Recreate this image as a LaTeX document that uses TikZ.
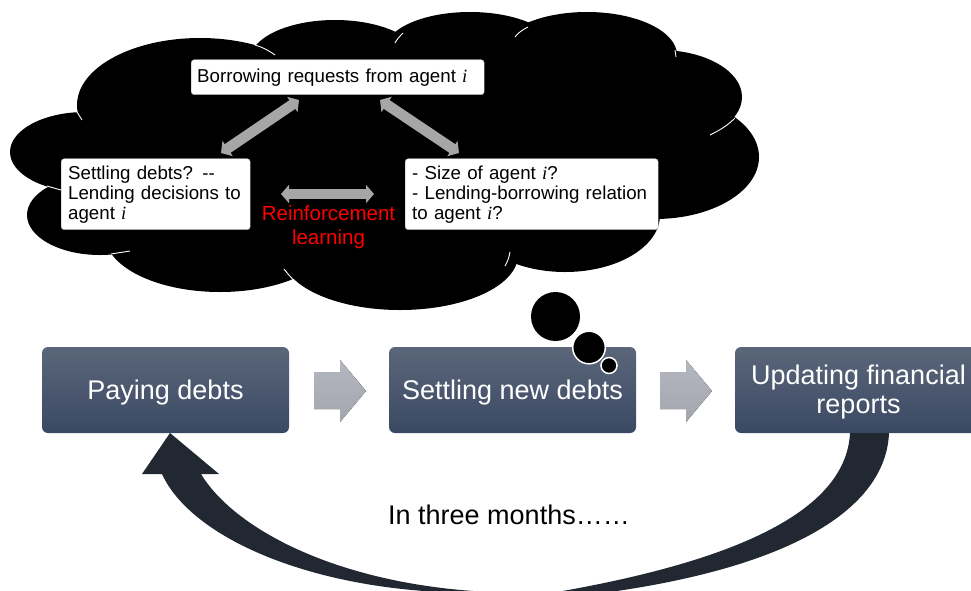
\documentclass[tikz,border=0pt]{standalone}
\usepackage{fontspec}
\setmainfont{Liberation Sans}
\newfontfamily\mathlike{Liberation Serif}
\usetikzlibrary{arrows.meta}
\definecolor{arcdark}{HTML}{212832}
\definecolor{boxtop}{HTML}{5B667A}
\definecolor{boxbot}{HTML}{3A4963}
\definecolor{chevtop}{HTML}{B4B7C0}
\definecolor{chevbot}{HTML}{A4A6AE}
\definecolor{dblarrow}{HTML}{A6A6A6}
\tikzset{
  lobe/.style={fill=black,draw=none},
  crease/.style={draw=white,line width=0.9pt},
  thinkbox/.style={draw=black!35,line width=0.4pt,fill=white,rounded corners=3pt,inner sep=0pt,font=\fontsize{18.7}{20}\selectfont,text=black},
  stagebox/.style={rounded corners=6pt,draw=none,top color=boxtop,bottom color=boxbot,inner sep=0pt,text=white,align=center,font=\fontsize{27}{29.5}\selectfont,minimum height=86pt},
  chev/.style={top color=chevtop,bottom color=chevbot,draw=none},
  twoway/.style={draw=dblarrow,line width=10.5pt,{Triangle[length=8pt,width=18pt]}-{Triangle[length=8pt,width=18pt]}},
  ring/.style={fill=black,draw=white,line width=1.5pt}
}
\newcommand{\ital}{{\mathlike\itshape i}}
\newcommand{\lowerline}{\rule{0pt}{24pt}}
\begin{document}
\begin{tikzpicture}[x=1pt,y=-1pt]
\useasboundingbox (0,0) rectangle (971,590);
% cloud
\fill[lobe] (200,105) ellipse [x radius=123,y radius=67];
\fill[lobe] (85,152) ellipse [x radius=75,y radius=40];
\fill[lobe] (100,215) ellipse [x radius=73,y radius=40];
\fill[lobe] (220,235) ellipse [x radius=115,y radius=57];
\fill[lobe] (400,255) ellipse [x radius=118,y radius=55];
\fill[lobe] (565,215) ellipse [x radius=95,y radius=57];
\fill[lobe] (655,157) ellipse [x radius=104,y radius=62];
\fill[lobe] (660,97) ellipse [x radius=82,y radius=47];
\fill[lobe] (587,55) ellipse [x radius=90,y radius=43];
\fill[lobe] (470,50) ellipse [x radius=85,y radius=38];
\fill[lobe] (335,60) ellipse [x radius=85,y radius=40];
\fill[lobe] (400,150) ellipse [x radius=280,y radius=90];
% creases
\draw[crease] (255,45) .. controls (262,47) and (268,50) .. (275,55);
\draw[crease] (395,43) .. controls (397,39) and (400,36) .. (403,33);
\draw[crease] (515,37) .. controls (518,33) and (522,30) .. (528,27);
\draw[crease] (675,50) -- (676,57);
\draw[crease] (735,118) .. controls (727,126) and (720,130) .. (710,135);
\draw[crease] (77,112) -- (82,120);
\draw[crease] (47,186) -- (61,190);
\draw[crease] (111,254) -- (130,251);
\draw[crease] (284,269) .. controls (288,274) and (291,278) .. (296,282);
\draw[crease] (510,252) .. controls (509,257) and (508,261) .. (505,266);
% thought bubble
\fill[black] (555.5,316.5) circle (24.5pt);
% stage boxes
\node[stagebox,minimum width=247pt] (pay) at (165.5,390) {\lowerline Paying debts};
\node[stagebox,minimum width=247pt] (settle) at (512.5,390) {\lowerline Settling new debts};
\node[stagebox,minimum width=247pt] (update) at (858.5,390) {\lowerline Updating financial\\reports};
\draw[ring] (589,347.5) circle (16.3pt);
\draw[ring] (609,365.5) circle (8pt);
% chevrons
\fill[chev] (314,372) -- (340,372) -- (340,360) -- (366,391) -- (340,422) -- (340,409) -- (314,409) -- cycle;
\fill[chev] (660,372) -- (686,372) -- (686,360) -- (712,391) -- (686,422) -- (686,409) -- (660,409) -- cycle;
% return arrow
\begin{scope}
\clip (0,0) rectangle (971,590);
\fill[arcdark] (850,433) -- (889,433)
  .. controls (886,505) and (800,565) .. (610,592)
  -- (440,592)
  .. controls (300,585) and (190,535) .. (162,474)
  -- (142,474) -- (170,433) -- (219,474) -- (201,474)
  .. controls (235,530) and (340,585) .. (490,592)
  -- (557,592)
  .. controls (740,560) and (846,510) .. (850,433) -- cycle;
\end{scope}
% thought boxes
\node[thinkbox,minimum width=293pt,minimum height=35pt,anchor=north west,text width=281pt,align=left] (req) at (191,59.5) {Borrowing requests from agent \ital};
\node[thinkbox,minimum width=189pt,minimum height=71pt,anchor=north west,text width=175pt,align=left] (lend) at (61,158.5) {Settling debts? -{}-\\Lending decisions to\\agent \ital};
\node[thinkbox,minimum width=253pt,minimum height=71pt,anchor=north west,text width=239pt,align=left] (size) at (405,158.5) {- Size of agent \ital?\\- Lending-borrowing relation\\to agent \ital?};
% grey arrows
\coordinate (a1) at (299,100);
\coordinate (a2) at (221,153);
\coordinate (b1) at (380,100);
\coordinate (b2) at (459,153);
\coordinate (c1) at (281,194);
\coordinate (c2) at (374,194);
\draw[twoway] (a1) -- (a2);
\draw[twoway] (b1) -- (b2);
\draw[twoway] (c1) -- (c2);
\node[text=red,align=center,inner sep=0pt,font=\fontsize{20.5}{24}\selectfont] (rl) at (328.5,227.5) {Reinforcement\\learning};
\node[text=black,inner sep=0pt,font=\fontsize{27}{29}\selectfont] (months) at (509,515) {In three months……};
\end{tikzpicture}
\end{document}
